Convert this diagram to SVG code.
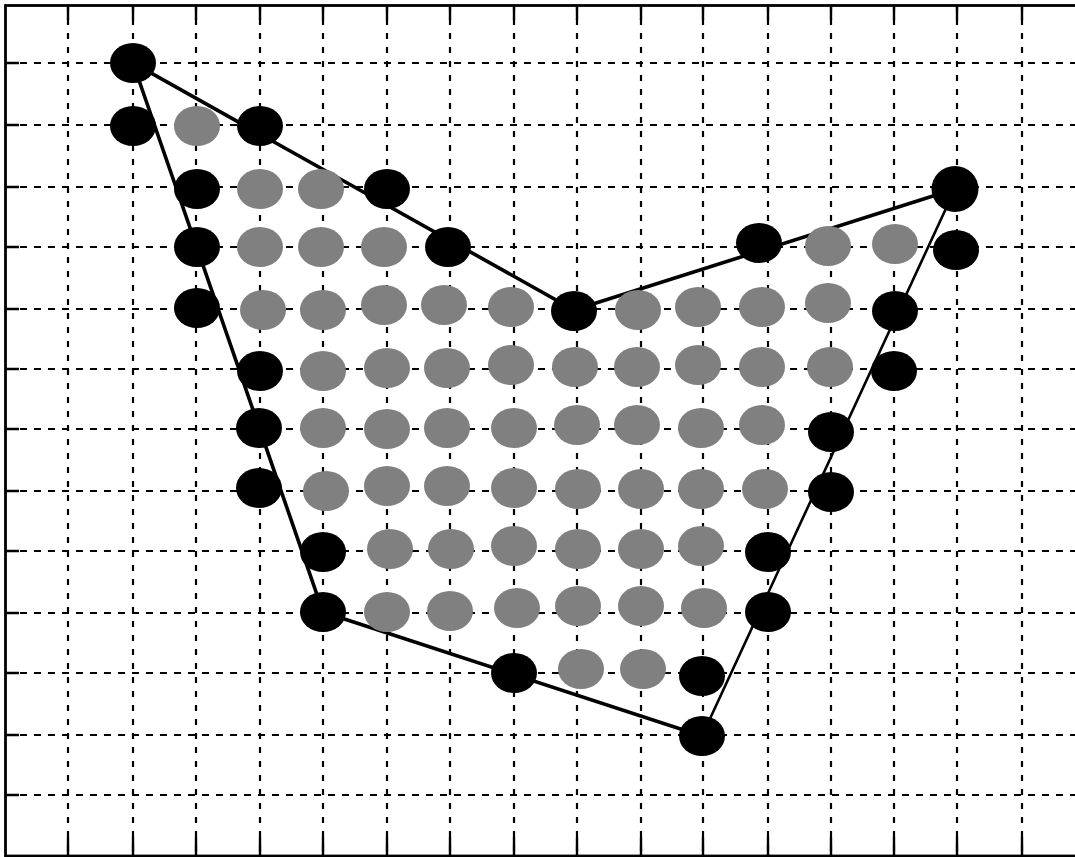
<svg xmlns="http://www.w3.org/2000/svg" width="1075" height="857" viewBox="0 0 1075 857">
<style>
.gh{stroke:#000;stroke-width:2.2;stroke-dasharray:7 7;fill:none}
.gv{stroke:#000;stroke-width:2.2;stroke-dasharray:6 8;fill:none}
.tick{stroke:#000;stroke-width:2.4;fill:none}
.frame{stroke:#000;stroke-width:2.8;fill:none}
.edge{stroke:#000;stroke-width:3.6;fill:none;stroke-linecap:round}
.edge2{stroke:#000;stroke-width:2.6;fill:none;stroke-linecap:round}
.b{fill:#000}
.g{fill:#808080}
</style>
<rect width="1075" height="857" fill="#fff"/>
<g id="grid">
<g id="grid-h">
<line class="gh" x1="6" y1="63" x2="1075" y2="63"/>
<line class="gh" x1="6" y1="125" x2="1075" y2="125"/>
<line class="gh" x1="6" y1="187" x2="1075" y2="187"/>
<line class="gh" x1="6" y1="247" x2="1075" y2="247"/>
<line class="gh" x1="6" y1="309" x2="1075" y2="309"/>
<line class="gh" x1="6" y1="369" x2="1075" y2="369"/>
<line class="gh" x1="6" y1="429" x2="1075" y2="429"/>
<line class="gh" x1="6" y1="491" x2="1075" y2="491"/>
<line class="gh" x1="6" y1="551" x2="1075" y2="551"/>
<line class="gh" x1="6" y1="613" x2="1075" y2="613"/>
<line class="gh" x1="6" y1="673" x2="1075" y2="673"/>
<line class="gh" x1="6" y1="735" x2="1075" y2="735"/>
<line class="gh" x1="6" y1="795" x2="1075" y2="795"/>
</g>
<g id="grid-v">
<line class="gv" x1="68" y1="5" x2="68" y2="856"/>
<line class="gv" x1="133" y1="5" x2="133" y2="856"/>
<line class="gv" x1="196" y1="5" x2="196" y2="856"/>
<line class="gv" x1="260" y1="5" x2="260" y2="856"/>
<line class="gv" x1="323" y1="5" x2="323" y2="856"/>
<line class="gv" x1="387" y1="5" x2="387" y2="856"/>
<line class="gv" x1="450" y1="5" x2="450" y2="856"/>
<line class="gv" x1="514" y1="5" x2="514" y2="856"/>
<line class="gv" x1="577" y1="5" x2="577" y2="856"/>
<line class="gv" x1="641" y1="5" x2="641" y2="856"/>
<line class="gv" x1="703" y1="5" x2="703" y2="856"/>
<line class="gv" x1="768" y1="5" x2="768" y2="856"/>
<line class="gv" x1="831" y1="5" x2="831" y2="856"/>
<line class="gv" x1="894" y1="5" x2="894" y2="856"/>
<line class="gv" x1="957" y1="5" x2="957" y2="856"/>
<line class="gv" x1="1022" y1="5" x2="1022" y2="856"/>
</g>
<g id="ticks">
<path class="tick" d="M68 5V20M133 5V20M196 5V20M260 5V20M323 5V20M387 5V20M450 5V20M514 5V20M577 5V20M641 5V20M703 5V20M768 5V20M831 5V20M894 5V20M957 5V20M1022 5V20"/>
<path class="tick" d="M68 837V856M133 837V856M196 837V856M260 837V856M323 837V856M387 837V856M450 837V856M514 837V856M577 837V856M641 837V856M703 837V856M768 837V856M831 837V856M894 837V856M957 837V856M1022 837V856"/>
<path class="tick" d="M6 63H19M6 125H19M6 187H19M6 247H19M6 309H19M6 369H19M6 429H19M6 491H19M6 551H19M6 613H19M6 673H19M6 735H19M6 795H19"/>
</g>
<rect class="frame" x="5.5" y="5.5" width="1080" height="850.5"/>
</g>
<g id="connectors">
<polyline class="edge" points="702,736 323,612 133,63 574,310 955,189"/>
<line class="edge2" x1="955" y1="189" x2="702" y2="736"/>
</g>
<g id="boundary-points">
<ellipse id="b1" class="b" cx="133" cy="63" rx="23" ry="20"/>
<ellipse id="b2" class="b" cx="133" cy="126" rx="23" ry="20"/>
<ellipse id="b3" class="b" cx="260" cy="126" rx="23" ry="20"/>
<ellipse id="b4" class="b" cx="197" cy="189" rx="23" ry="20"/>
<ellipse id="b5" class="b" cx="387" cy="189" rx="23" ry="20"/>
<ellipse id="b6" class="b" cx="955" cy="189" rx="23.5" ry="23"/>
<ellipse id="b7" class="b" cx="197" cy="247" rx="23" ry="20"/>
<ellipse id="b8" class="b" cx="448" cy="247" rx="23" ry="20"/>
<ellipse id="b9" class="b" cx="759" cy="243" rx="23" ry="20"/>
<ellipse id="b10" class="b" cx="956" cy="250" rx="23" ry="20"/>
<ellipse id="b11" class="b" cx="197" cy="308" rx="23" ry="20"/>
<ellipse id="b12" class="b" cx="574" cy="311" rx="23" ry="20"/>
<ellipse id="b13" class="b" cx="895" cy="311" rx="23" ry="20"/>
<ellipse id="b14" class="b" cx="260" cy="371" rx="23" ry="20"/>
<ellipse id="b15" class="b" cx="894" cy="371" rx="23" ry="20"/>
<ellipse id="b16" class="b" cx="259" cy="428" rx="23" ry="20"/>
<ellipse id="b17" class="b" cx="831" cy="432" rx="23" ry="20"/>
<ellipse id="b18" class="b" cx="259" cy="488" rx="23" ry="20"/>
<ellipse id="b19" class="b" cx="831" cy="492" rx="23" ry="20"/>
<ellipse id="b20" class="b" cx="323" cy="552" rx="23" ry="20"/>
<ellipse id="b21" class="b" cx="768" cy="552" rx="23" ry="20"/>
<ellipse id="b22" class="b" cx="323" cy="612" rx="23" ry="20"/>
<ellipse id="b23" class="b" cx="768" cy="612" rx="23" ry="20"/>
<ellipse id="b24" class="b" cx="514" cy="673" rx="23" ry="20"/>
<ellipse id="b25" class="b" cx="702" cy="676" rx="23" ry="20"/>
<ellipse id="b26" class="b" cx="702" cy="736" rx="23" ry="20"/>
</g>
<g id="interior-points">
<ellipse class="g" cx="197" cy="126" rx="23" ry="20"/>
<ellipse class="g" cx="260" cy="189" rx="23" ry="20"/>
<ellipse class="g" cx="321" cy="189" rx="23" ry="20"/>
<ellipse class="g" cx="260" cy="247" rx="23" ry="20"/>
<ellipse class="g" cx="321" cy="247" rx="23" ry="20"/>
<ellipse class="g" cx="384" cy="247" rx="23" ry="20"/>
<ellipse class="g" cx="828" cy="246" rx="23" ry="20"/>
<ellipse class="g" cx="895" cy="244" rx="23" ry="20"/>
<ellipse class="g" cx="263" cy="310" rx="23" ry="20"/>
<ellipse class="g" cx="323" cy="310" rx="23" ry="20"/>
<ellipse class="g" cx="384" cy="305" rx="23" ry="20"/>
<ellipse class="g" cx="444" cy="305" rx="23" ry="20"/>
<ellipse class="g" cx="511" cy="307" rx="23" ry="20"/>
<ellipse class="g" cx="638" cy="310" rx="23" ry="20"/>
<ellipse class="g" cx="698" cy="307" rx="23" ry="20"/>
<ellipse class="g" cx="762" cy="307" rx="23" ry="20"/>
<ellipse class="g" cx="828" cy="303" rx="23" ry="20"/>
<ellipse class="g" cx="323" cy="371" rx="23" ry="20"/>
<ellipse class="g" cx="387" cy="368" rx="23" ry="20"/>
<ellipse class="g" cx="447" cy="368" rx="23" ry="20"/>
<ellipse class="g" cx="511" cy="365" rx="23" ry="20"/>
<ellipse class="g" cx="575" cy="367" rx="23" ry="20"/>
<ellipse class="g" cx="637" cy="367" rx="23" ry="20"/>
<ellipse class="g" cx="698" cy="365" rx="23" ry="20"/>
<ellipse class="g" cx="762" cy="367" rx="23" ry="20"/>
<ellipse class="g" cx="830" cy="367" rx="23" ry="20"/>
<ellipse class="g" cx="323" cy="428" rx="23" ry="20"/>
<ellipse class="g" cx="387" cy="429" rx="23" ry="20"/>
<ellipse class="g" cx="447" cy="428" rx="23" ry="20"/>
<ellipse class="g" cx="514" cy="428" rx="23" ry="20"/>
<ellipse class="g" cx="577" cy="425" rx="23" ry="20"/>
<ellipse class="g" cx="637" cy="425" rx="23" ry="20"/>
<ellipse class="g" cx="701" cy="428" rx="23" ry="20"/>
<ellipse class="g" cx="762" cy="425" rx="23" ry="20"/>
<ellipse class="g" cx="326" cy="491" rx="23" ry="20"/>
<ellipse class="g" cx="387" cy="486" rx="23" ry="20"/>
<ellipse class="g" cx="447" cy="486" rx="23" ry="20"/>
<ellipse class="g" cx="514" cy="488" rx="23" ry="20"/>
<ellipse class="g" cx="578" cy="489" rx="23" ry="20"/>
<ellipse class="g" cx="641" cy="489" rx="23" ry="20"/>
<ellipse class="g" cx="701" cy="489" rx="23" ry="20"/>
<ellipse class="g" cx="765" cy="489" rx="23" ry="20"/>
<ellipse class="g" cx="390" cy="549" rx="23" ry="20"/>
<ellipse class="g" cx="451" cy="549" rx="23" ry="20"/>
<ellipse class="g" cx="514" cy="546" rx="23" ry="20"/>
<ellipse class="g" cx="578" cy="549" rx="23" ry="20"/>
<ellipse class="g" cx="641" cy="549" rx="23" ry="20"/>
<ellipse class="g" cx="701" cy="546" rx="23" ry="20"/>
<ellipse class="g" cx="387" cy="612" rx="23" ry="20"/>
<ellipse class="g" cx="450" cy="611" rx="23" ry="20"/>
<ellipse class="g" cx="517" cy="608" rx="23" ry="20"/>
<ellipse class="g" cx="578" cy="606" rx="23" ry="20"/>
<ellipse class="g" cx="641" cy="606" rx="23" ry="20"/>
<ellipse class="g" cx="704" cy="608" rx="23" ry="20"/>
<ellipse class="g" cx="581" cy="669" rx="23" ry="20"/>
<ellipse class="g" cx="643" cy="669" rx="23" ry="20"/>
</g>
</svg>
